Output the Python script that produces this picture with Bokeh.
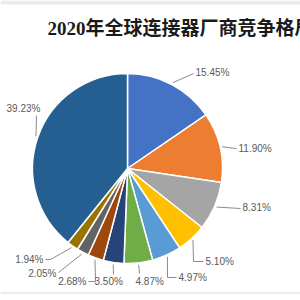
import numpy as np
from bokeh.plotting import figure
from bokeh.models import ColumnDataSource, Range1d, Label
from bokeh.embed import file_html
from bokeh.resources import INLINE
from bokeh.core.properties import value

# ---------------- data ----------------
title_text = "2020年全球连接器厂商竞争格局"
shares = [15.45, 11.90, 8.31, 5.10, 4.97, 4.87, 3.50, 2.68, 2.05, 1.94, 39.23]
share_labels = ["15.45%", "11.90%", "8.31%", "5.10%", "4.97%", "4.87%",
                "3.50%", "2.68%", "2.05%", "1.94%", "39.23%"]
colors = ["#4472C4", "#ED7D31", "#A5A5A5", "#FFC000", "#5B9BD5", "#70AD47",
          "#264478", "#9E480E", "#636363", "#997300", "#255E91"]

# ---------------- layout (pixel space, y downward) ----------------
W = H = 300
CX, CY, R = 127, 168, 95
# label text anchor (x, y, align) and leader waypoints after the slice edge point
label_pos = [(195, 72, "left"), (238, 148, "left"), (242, 207, "left"),
             (205, 261, "left"), (178, 277, "left"), (135, 281, "left"),
             (94, 281, "left"), (86, 281, "right"), (56, 273, "right"),
             (43, 259, "right"), (23, 108, "center")]
leader_way = [[(193, 73)], [(236, 148)], [(240, 208)],
              [(193, 261), (203, 261)], [(167, 277), (176, 277)], [(139, 273)],
              [(113, 274)], [(95, 281), (88, 281)], [(58, 272)],
              [(50, 259), (45, 259)], [(36, 115)]]


def py(y):
    return H - y


frac = np.array(shares) / np.sum(shares)
cum = np.concatenate([[0.0], np.cumsum(frac)])
theta0 = cum[:-1] * 360.0   # clockwise from 12 o'clock
theta1 = cum[1:] * 360.0
start = np.radians(90.0 - theta0)
end = np.radians(90.0 - theta1)
mid = np.radians((theta0 + theta1) / 2.0)

src = ColumnDataSource(dict(start=start, end=end, color=colors))

p = figure(width=W, height=H, x_range=Range1d(0, W), y_range=Range1d(0, H),
           output_backend="svg", toolbar_location=None, min_border=0,
           x_axis_location=None, y_axis_location=None)
p.grid.visible = False
p.outline_line_color = None
p.background_fill_color = "white"
p.border_fill_color = "white"

# frame decorations
p.quad(left=0, right=W, top=py(0), bottom=py(4), fill_color="#ebebeb", line_color=None)
p.segment(x0=0, y0=py(292.5), x1=W, y1=py(292.5), line_color="#dadada", line_width=1)

p.wedge(x=CX, y=py(CY), radius=R, start_angle="start", end_angle="end",
        direction="clock", fill_color="color", line_color="white",
        line_width=1.5, source=src)

# leader lines
xs, ys = [], []
for m, way in zip(mid, leader_way):
    ex = CX + (R + 2) * np.sin(m)
    ey = CY - (R + 2) * np.cos(m)
    pts = [(ex, ey)] + way
    xs.append([q[0] for q in pts])
    ys.append([py(q[1]) for q in pts])
p.multi_line(xs=xs, ys=ys, line_color="#8c8c8c", line_width=1)

lab_src = ColumnDataSource(dict(
    x=[q[0] for q in label_pos], y=[py(q[1]) for q in label_pos],
    align=[q[2] for q in label_pos], text=share_labels))
p.text(x="x", y="y", text="text", text_align="align", text_baseline="middle",
       text_font=value("Liberation Sans"), text_font_size="10px",
       text_color="#595959", source=lab_src)

p.add_layout(Label(x=47, y=py(27.5), text=title_text,
                   text_font="Liberation Serif, Noto Sans CJK SC",
                   text_font_style="bold", text_font_size="19px",
                   text_baseline="middle", text_color="#1a1a1a"))

open("out.html", "w").write(file_html(p, INLINE))
